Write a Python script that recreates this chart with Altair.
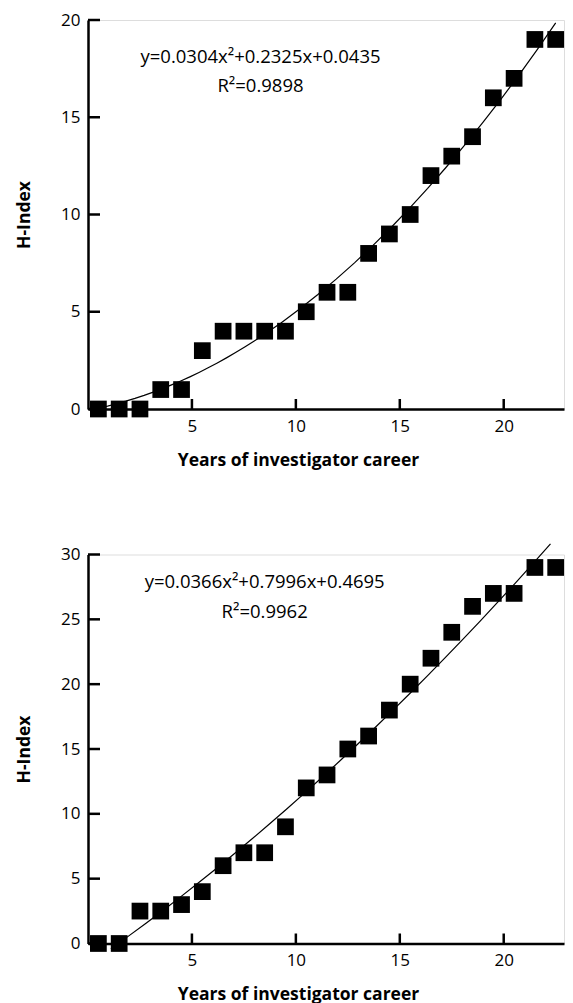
import altair as alt
import pandas as pd

# ---- data ----
years = [0.5, 1.5, 2.5, 3.5, 4.5, 5.5, 6.5, 7.5, 8.5, 9.5, 10.5, 11.5,
         12.5, 13.5, 14.5, 15.5, 16.5, 17.5, 18.5, 19.5, 20.5, 21.5, 22.5]
h_index_top = [0, 0, 0, 1, 1, 3, 4, 4, 4, 4, 5, 6, 6, 8, 9, 10, 12, 13, 14, 16, 17, 19, 19]
h_index_bottom = [0, 0, 2.5, 2.5, 3, 4, 6, 7, 7, 9, 12, 13, 15, 16, 18, 20, 22, 24, 26, 27, 27, 29, 29]

x_ticks = [5, 10, 15, 20]
y_ticks_top = [0, 5, 10, 15, 20]
y_ticks_bottom = [0, 5, 10, 15, 20, 25, 30]

eq_top = ["y=0.0304x²+0.2325x+0.0435", "R²=0.9898"]
eq_bottom = ["y=0.0366x²+0.7996x+0.4695", "R²=0.9962"]

# annotation anchors (data units)
eq_top_x = [8.3, 8.3]
eq_top_y = [18.1, 16.6]
eq_bottom_x = [8.5, 8.5]
eq_bottom_y = [27.9, 25.6]

# extent of the fitted curves (years)
fit_top_extent = [0.5, 22.5]
fit_bottom_extent = [1.1, 22.25]

FONT = "Open Sans"
X_MAX = 22.9
WIDTH = 476


def panel(h, ymax, yticks, eq_txt, eq_x, eq_y, height, extent):
    df = pd.DataFrame({"x": years, "y": h})
    xs = alt.Scale(domain=[0, X_MAX], nice=False, zero=False)
    ys = alt.Scale(domain=[0, ymax], nice=False)
    xaxis = alt.Axis(values=x_ticks, ticks=False, grid=False,
                     domainColor="black", domainWidth=2.5,
                     labelFontSize=17, labelPadding=9, labelColor="black",
                     title="Years of investigator career", titleFontSize=17.5,
                     titleFontWeight="bold", titleColor="black",
                     titlePadding=17, titleX=210)
    yaxis = alt.Axis(values=yticks, ticks=False, grid=False,
                     domainColor="black", domainWidth=2.5,
                     labelFontSize=17, labelPadding=8, labelColor="black",
                     title="H-Index", titleFontSize=17.5, titleFontWeight="bold",
                     titleColor="black", titlePadding=27)

    base = alt.Chart(df)
    pts = base.mark_square(size=280, color="black", opacity=1).encode(
        x=alt.X("x:Q", scale=xs, axis=xaxis),
        y=alt.Y("y:Q", scale=ys, axis=yaxis),
    )
    fit = base.transform_regression(
        "x", "y", method="poly", order=2, extent=extent
    ).mark_line(color="black", strokeWidth=1.2).encode(
        x=alt.X("x:Q", scale=xs), y=alt.Y("y:Q", scale=ys)
    )

    yt = alt.Chart(pd.DataFrame({"v": yticks})).mark_rule(
        color="black", strokeWidth=2.5
    ).encode(y=alt.Y("v:Q", scale=ys), x=alt.value(0), x2=alt.value(12))
    xt = alt.Chart(pd.DataFrame({"v": x_ticks})).mark_rule(
        color="black", strokeWidth=2.5
    ).encode(x=alt.X("v:Q", scale=xs), y=alt.value(height), y2=alt.value(height - 10))

    txt = alt.Chart(pd.DataFrame({"tx": eq_x, "ty": eq_y, "t": eq_txt})).mark_text(
        font=FONT, fontSize=18.5, color="black", align="center", baseline="middle"
    ).encode(x=alt.X("tx:Q", scale=xs), y=alt.Y("ty:Q", scale=ys), text="t:N")

    return alt.layer(pts, fit, yt, xt, txt).properties(width=WIDTH, height=height)


top = panel(h_index_top, 20, y_ticks_top, eq_top, eq_top_x, eq_top_y, 389, fit_top_extent)
bottom = panel(h_index_bottom, 30, y_ticks_bottom, eq_bottom, eq_bottom_x, eq_bottom_y, 389,
               fit_bottom_extent)

chart = alt.vconcat(top, bottom, spacing=145.5, bounds="flush").properties(
    padding={"left": 7, "top": 2, "right": 0, "bottom": 0}
).configure_view(stroke=None).configure(font=FONT).configure_axis(
    labelFont=FONT, titleFont=FONT
)

chart.save("out.html", embed_options={"renderer": "svg", "actions": False})
